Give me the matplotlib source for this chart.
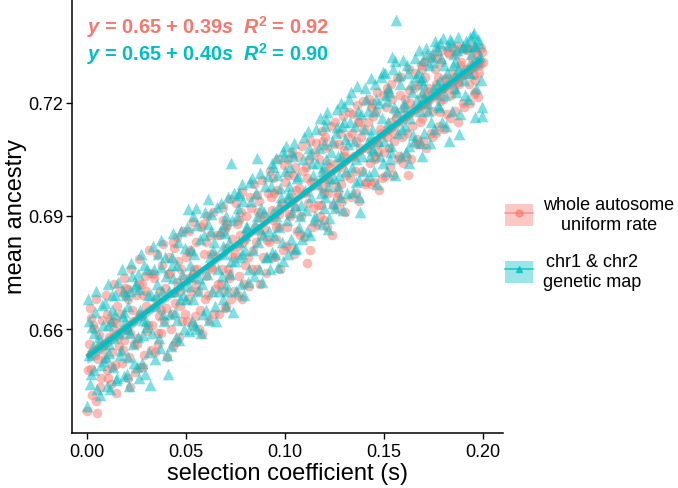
import numpy as np
import matplotlib
matplotlib.use("Agg")
import matplotlib.pyplot as plt
from matplotlib.patches import Patch
from matplotlib.lines import Line2D

plt.rcParams['font.family'] = ['Liberation Sans', 'DejaVu Sans']
plt.rcParams['mathtext.fontset'] = 'custom'
plt.rcParams['mathtext.rm'] = 'Liberation Sans'
plt.rcParams['mathtext.it'] = 'Liberation Sans:italic'
plt.rcParams['mathtext.bf'] = 'Liberation Sans:bold'
plt.rcParams['mathtext.bfit'] = 'Liberation Sans:bold:italic'

series_labels = ["whole autosome\nuniform rate", "chr1 & chr2\ngenetic map"]
x_ticks = [0.00, 0.05, 0.10, 0.15, 0.20]
y_ticks = [0.66, 0.69, 0.72]
fit_intercept = [0.6528, 0.6525]
fit_slope = [0.392, 0.397]

# whole autosome, uniform rate (circles)
s_auto = [
    0.000, 0.001, 0.002, 0.003, 0.004, 0.005, 0.006, 0.007, 0.008, 0.002,
    0.009, 0.010, 0.011, 0.012, 0.013, 0.014, 0.015, 0.016, 0.010, 0.013,
    0.017, 0.018, 0.019, 0.020, 0.021, 0.022, 0.023, 0.024, 0.019, 0.022,
    0.025, 0.026, 0.027, 0.028, 0.029, 0.030, 0.031, 0.032, 0.027, 0.030,
    0.033, 0.034, 0.035, 0.036, 0.037, 0.038, 0.039, 0.040, 0.041, 0.036,
    0.042, 0.043, 0.044, 0.045, 0.046, 0.047, 0.048, 0.049, 0.044, 0.047,
    0.050, 0.051, 0.052, 0.053, 0.054, 0.055, 0.056, 0.057, 0.052, 0.055,
    0.058, 0.059, 0.060, 0.061, 0.062, 0.063, 0.064, 0.065, 0.066, 0.060,
    0.067, 0.068, 0.069, 0.070, 0.071, 0.072, 0.073, 0.074, 0.069, 0.072,
    0.075, 0.076, 0.077, 0.078, 0.079, 0.080, 0.081, 0.082, 0.077, 0.080,
    0.083, 0.084, 0.085, 0.086, 0.087, 0.088, 0.089, 0.090, 0.091, 0.086,
    0.092, 0.093, 0.094, 0.095, 0.096, 0.097, 0.098, 0.099, 0.094, 0.097,
    0.100, 0.101, 0.102, 0.103, 0.104, 0.105, 0.106, 0.107, 0.102, 0.105,
    0.108, 0.109, 0.110, 0.111, 0.112, 0.113, 0.114, 0.115, 0.116, 0.111,
    0.117, 0.118, 0.119, 0.120, 0.121, 0.122, 0.123, 0.124, 0.119, 0.122,
    0.125, 0.126, 0.127, 0.128, 0.129, 0.130, 0.131, 0.132, 0.127, 0.130,
    0.133, 0.134, 0.135, 0.136, 0.137, 0.138, 0.139, 0.140, 0.141, 0.136,
    0.142, 0.143, 0.144, 0.145, 0.146, 0.147, 0.148, 0.149, 0.144, 0.147,
    0.150, 0.151, 0.152, 0.153, 0.154, 0.155, 0.156, 0.157, 0.152, 0.155,
    0.158, 0.159, 0.160, 0.161, 0.162, 0.163, 0.164, 0.165, 0.166, 0.160,
    0.167, 0.168, 0.169, 0.170, 0.171, 0.172, 0.173, 0.174, 0.169, 0.172,
    0.175, 0.176, 0.177, 0.178, 0.179, 0.180, 0.181, 0.182, 0.177, 0.180,
    0.183, 0.184, 0.185, 0.186, 0.187, 0.188, 0.189, 0.190, 0.191, 0.186,
    0.192, 0.193, 0.194, 0.195, 0.196, 0.197, 0.198, 0.199, 0.200, 0.196,
    0.0005, 0.0015, 0.0025, 0.0035, 0.0045, 0.0055, 0.0065, 0.0075, 0.0085, 0.0045,
    0.0095, 0.0105, 0.0115, 0.0125, 0.0135, 0.0145, 0.0155, 0.0165, 0.0125, 0.0145,
    0.0175, 0.0185, 0.0195, 0.0205, 0.0215, 0.0225, 0.0235, 0.0245, 0.0205, 0.0185,
    0.0255, 0.0265, 0.0275, 0.0285, 0.0295, 0.0305, 0.0315, 0.0325, 0.0285, 0.0265,
    0.0335, 0.0345, 0.0355, 0.0365, 0.0375, 0.0385, 0.0395, 0.0405, 0.0415, 0.0375,
    0.0425, 0.0435, 0.0445, 0.0455, 0.0465, 0.0475, 0.0485, 0.0495, 0.0455, 0.0435,
    0.0505, 0.0515, 0.0525, 0.0535, 0.0545, 0.0555, 0.0565, 0.0575, 0.0535, 0.0515,
    0.0585, 0.0595, 0.0605, 0.0615, 0.0625, 0.0635, 0.0645, 0.0655, 0.0665, 0.0625,
    0.0675, 0.0685, 0.0695, 0.0705, 0.0715, 0.0725, 0.0735, 0.0745, 0.0705, 0.0685,
    0.0755, 0.0765, 0.0775, 0.0785, 0.0795, 0.0805, 0.0815, 0.0825, 0.0785, 0.0765,
    0.0835, 0.0845, 0.0855, 0.0865, 0.0875, 0.0885, 0.0895, 0.0905, 0.0915, 0.0875,
    0.0925, 0.0935, 0.0945, 0.0955, 0.0965, 0.0975, 0.0985, 0.0995, 0.0955, 0.0935,
    0.1005, 0.1015, 0.1025, 0.1035, 0.1045, 0.1055, 0.1065, 0.1075, 0.1035, 0.1015,
    0.1085, 0.1095, 0.1105, 0.1115, 0.1125, 0.1135, 0.1145, 0.1155, 0.1165, 0.1125,
    0.1175, 0.1185, 0.1195, 0.1205, 0.1215, 0.1225, 0.1235, 0.1245, 0.1205, 0.1185,
    0.1255, 0.1265, 0.1275, 0.1285, 0.1295, 0.1305, 0.1315, 0.1325, 0.1285, 0.1265,
    0.1335, 0.1345, 0.1355, 0.1365, 0.1375, 0.1385, 0.1395, 0.1405, 0.1415, 0.1375,
    0.1425, 0.1435, 0.1445, 0.1455, 0.1465, 0.1475, 0.1485, 0.1495, 0.1455, 0.1435,
    0.1505, 0.1515, 0.1525, 0.1535, 0.1545, 0.1555, 0.1565, 0.1575, 0.1535, 0.1515,
    0.1585, 0.1595, 0.1605, 0.1615, 0.1625, 0.1635, 0.1645, 0.1655, 0.1665, 0.1625,
    0.1675, 0.1685, 0.1695, 0.1705, 0.1715, 0.1725, 0.1735, 0.1745, 0.1705, 0.1685,
    0.1755, 0.1765, 0.1775, 0.1785, 0.1795, 0.1805, 0.1815, 0.1825, 0.1785, 0.1765,
    0.1835, 0.1845, 0.1855, 0.1865, 0.1875, 0.1885, 0.1895, 0.1905, 0.1915, 0.1875,
    0.1925, 0.1935, 0.1945, 0.1955, 0.1965, 0.1975, 0.1985, 0.1995, 0.1955, 0.1935,
]
y_auto = [
    0.6382, 0.6560, 0.6495, 0.6610, 0.6530, 0.6378, 0.6585, 0.6470, 0.6545, 0.6630,
    0.6520, 0.6640, 0.6580, 0.6455, 0.6600, 0.6505, 0.6660, 0.6555, 0.6490, 0.6620,
    0.6640, 0.6545, 0.6690, 0.6600, 0.6470, 0.6446, 0.6650, 0.6560, 0.6710, 0.6590,
    0.6690, 0.6575, 0.6640, 0.6720, 0.6530, 0.6660, 0.6610, 0.6750, 0.6500, 0.6700,
    0.6610, 0.6735, 0.6680, 0.6560, 0.6700, 0.6770, 0.6620, 0.6655, 0.6745, 0.6590,
    0.6750, 0.6640, 0.6695, 0.6565, 0.6780, 0.6700, 0.6620, 0.6735, 0.6815, 0.6660,
    0.6790, 0.6680, 0.6735, 0.6610, 0.6760, 0.6830, 0.6700, 0.6650, 0.6810, 0.6720,
    0.6587, 0.6800, 0.6740, 0.6690, 0.6850, 0.6760, 0.6640, 0.6795, 0.6720, 0.6830,
    0.6850, 0.6760, 0.6700, 0.6815, 0.6880, 0.6745, 0.6680, 0.6790, 0.6860, 0.6735,
    0.6800, 0.6880, 0.6740, 0.6910, 0.6830, 0.6770, 0.6860, 0.6715, 0.6890, 0.6840,
    0.6920, 0.6810, 0.6870, 0.6760, 0.6940, 0.6850, 0.6790, 0.6900, 0.6835, 0.6955,
    0.6830, 0.6950, 0.6890, 0.6790, 0.6970, 0.6870, 0.6920, 0.6810, 0.7000, 0.6905,
    0.6990, 0.6870, 0.6940, 0.6815, 0.7010, 0.6920, 0.6860, 0.6975, 0.6905, 0.7030,
    0.6900, 0.7020, 0.6960, 0.6775, 0.7050, 0.6990, 0.6920, 0.7070, 0.6880, 0.7000,
    0.7050, 0.6930, 0.7000, 0.6890, 0.7080, 0.6960, 0.7030, 0.6850, 0.7100, 0.6990,
    0.7090, 0.6980, 0.7040, 0.7120, 0.6940, 0.7060, 0.7010, 0.7110, 0.6960, 0.7075,
    0.7000, 0.7120, 0.7060, 0.6960, 0.7150, 0.7080, 0.7020, 0.7130, 0.6990, 0.7100,
    0.7150, 0.7040, 0.7100, 0.6990, 0.7180, 0.7070, 0.7130, 0.7000, 0.7200, 0.7090,
    0.7070, 0.7190, 0.7130, 0.7030, 0.7210, 0.7100, 0.7160, 0.7050, 0.7230, 0.7120,
    0.7220, 0.7110, 0.7170, 0.7060, 0.7009, 0.7200, 0.7140, 0.7240, 0.7090, 0.7190,
    0.7250, 0.7150, 0.7210, 0.7100, 0.7270, 0.7180, 0.7230, 0.7120, 0.7290, 0.7200,
    0.7180, 0.7290, 0.7230, 0.7140, 0.7310, 0.7210, 0.7260, 0.7170, 0.7320, 0.7240,
    0.7330, 0.7220, 0.7280, 0.7180, 0.7350, 0.7250, 0.7310, 0.7200, 0.7345, 0.7270,
    0.7340, 0.7250, 0.7300, 0.7350, 0.7230, 0.7330, 0.7280, 0.7345, 0.7310, 0.7260,
    0.6490, 0.6655, 0.6425, 0.6600, 0.6680, 0.6520, 0.6445, 0.6625, 0.6560, 0.6410,
    0.6690, 0.6470, 0.6625, 0.6540, 0.6720, 0.6430, 0.6580, 0.6700, 0.6500, 0.6615,
    0.6510, 0.6735, 0.6600, 0.6680, 0.6525, 0.6760, 0.6620, 0.6485, 0.6705, 0.6570,
    0.6560, 0.6785, 0.6635, 0.6500, 0.6740, 0.6595, 0.6810, 0.6545, 0.6690, 0.6720,
    0.6745, 0.6540, 0.6800, 0.6635, 0.6590, 0.6825, 0.6710, 0.6525, 0.6790, 0.6650,
    0.6600, 0.6830, 0.6670, 0.6845, 0.6580, 0.6760, 0.6860, 0.6640, 0.6725, 0.6555,
    0.6620, 0.6860, 0.6700, 0.6885, 0.6635, 0.6760, 0.6600, 0.6870, 0.6745, 0.6805,
    0.6880, 0.6680, 0.6900, 0.6625, 0.6765, 0.6910, 0.6705, 0.6850, 0.6640, 0.6800,
    0.6720, 0.6925, 0.6655, 0.6870, 0.6760, 0.6945, 0.6840, 0.6700, 0.6660, 0.6890,
    0.6935, 0.6690, 0.6850, 0.6965, 0.6720, 0.6900, 0.6790, 0.6950, 0.6680, 0.6820,
    0.6760, 0.6985, 0.6830, 0.6910, 0.6720, 0.6995, 0.6865, 0.6750, 0.6960, 0.6895,
    0.7020, 0.6790, 0.6960, 0.6870, 0.7050, 0.6760, 0.6935, 0.7035, 0.6840, 0.6915,
    0.6820, 0.7050, 0.6900, 0.7070, 0.6800, 0.6970, 0.7060, 0.6850, 0.6950, 0.7010,
    0.7085, 0.6845, 0.7030, 0.6935, 0.7100, 0.6870, 0.6990, 0.7095, 0.6930, 0.6810,
    0.6900, 0.7125, 0.6960, 0.7110, 0.6870, 0.7040, 0.7140, 0.6930, 0.7020, 0.6975,
    0.7150, 0.6920, 0.7090, 0.6985, 0.7165, 0.6910, 0.7055, 0.7175, 0.7030, 0.6950,
    0.6950, 0.7170, 0.7020, 0.7195, 0.6940, 0.7110, 0.7205, 0.6985, 0.7080, 0.7150,
    0.7210, 0.6985, 0.7165, 0.7060, 0.7230, 0.6970, 0.7120, 0.7220, 0.7050, 0.7190,
    0.7005, 0.7240, 0.7080, 0.7250, 0.7010, 0.7180, 0.7265, 0.7060, 0.7150, 0.7110,
    0.7270, 0.7040, 0.7210, 0.7120, 0.7290, 0.7050, 0.7185, 0.7280, 0.7105, 0.7235,
    0.7090, 0.7300, 0.7160, 0.7310, 0.7080, 0.7240, 0.7320, 0.7110, 0.7225, 0.7195,
    0.7330, 0.7120, 0.7270, 0.7205, 0.7340, 0.7130, 0.7265, 0.7335, 0.7175, 0.7250,
    0.7160, 0.7345, 0.7235, 0.7330, 0.7150, 0.7300, 0.7345, 0.7190, 0.7290, 0.7255,
    0.7345, 0.7200, 0.7320, 0.7275, 0.7340, 0.7215, 0.7300, 0.7335, 0.7225, 0.7290,
]

# chr1 & chr2, genetic map (triangles)
s_map = [
    0.000, 0.001, 0.002, 0.003, 0.004, 0.005, 0.006, 0.007, 0.008, 0.001,
    0.009, 0.010, 0.011, 0.012, 0.013, 0.014, 0.015, 0.016, 0.011, 0.014,
    0.017, 0.018, 0.019, 0.020, 0.021, 0.022, 0.023, 0.024, 0.018, 0.022,
    0.025, 0.026, 0.027, 0.028, 0.029, 0.030, 0.031, 0.032, 0.026, 0.030,
    0.033, 0.034, 0.035, 0.036, 0.037, 0.038, 0.039, 0.040, 0.041, 0.035,
    0.042, 0.043, 0.044, 0.045, 0.046, 0.047, 0.048, 0.049, 0.043, 0.047,
    0.050, 0.051, 0.052, 0.053, 0.054, 0.055, 0.056, 0.057, 0.052, 0.055,
    0.058, 0.059, 0.060, 0.061, 0.062, 0.063, 0.064, 0.065, 0.066, 0.061,
    0.067, 0.068, 0.069, 0.070, 0.071, 0.072, 0.073, 0.074, 0.069, 0.073,
    0.075, 0.076, 0.077, 0.078, 0.079, 0.080, 0.081, 0.082, 0.077, 0.080,
    0.083, 0.084, 0.085, 0.086, 0.087, 0.088, 0.089, 0.090, 0.091, 0.086,
    0.092, 0.093, 0.094, 0.095, 0.096, 0.097, 0.098, 0.099, 0.094, 0.097,
    0.100, 0.101, 0.102, 0.103, 0.104, 0.105, 0.106, 0.107, 0.102, 0.105,
    0.108, 0.109, 0.110, 0.111, 0.112, 0.113, 0.114, 0.115, 0.116, 0.099,
    0.117, 0.118, 0.119, 0.120, 0.121, 0.122, 0.123, 0.124, 0.121, 0.122,
    0.125, 0.126, 0.127, 0.128, 0.129, 0.130, 0.131, 0.132, 0.127, 0.130,
    0.133, 0.134, 0.135, 0.136, 0.137, 0.138, 0.139, 0.140, 0.141, 0.136,
    0.142, 0.143, 0.144, 0.145, 0.146, 0.147, 0.148, 0.149, 0.144, 0.1495,
    0.150, 0.151, 0.152, 0.153, 0.154, 0.155, 0.156, 0.157, 0.1556, 0.152,
    0.158, 0.159, 0.160, 0.161, 0.162, 0.163, 0.164, 0.165, 0.166, 0.160,
    0.167, 0.168, 0.169, 0.170, 0.1697, 0.172, 0.173, 0.174, 0.169, 0.172,
    0.175, 0.1758, 0.177, 0.178, 0.179, 0.180, 0.181, 0.182, 0.177, 0.175,
    0.183, 0.184, 0.185, 0.186, 0.187, 0.188, 0.189, 0.190, 0.191, 0.186,
    0.192, 0.193, 0.194, 0.195, 0.196, 0.197, 0.198, 0.199, 0.1995, 0.196,
    0.0005, 0.0015, 0.0025, 0.0035, 0.0045, 0.0055, 0.0065, 0.0075, 0.0085, 0.0035,
    0.0095, 0.0105, 0.0115, 0.0125, 0.0135, 0.0145, 0.0155, 0.0165, 0.0125, 0.0105,
    0.0175, 0.0185, 0.0195, 0.0205, 0.0215, 0.0225, 0.0235, 0.0245, 0.0205, 0.0185,
    0.0255, 0.0265, 0.0275, 0.0285, 0.0295, 0.0305, 0.0315, 0.0325, 0.0285, 0.0265,
    0.0335, 0.0345, 0.0355, 0.0365, 0.0375, 0.0385, 0.0395, 0.0405, 0.0415, 0.0375,
    0.0425, 0.0435, 0.0445, 0.0455, 0.0465, 0.0475, 0.0485, 0.0495, 0.0455, 0.0435,
    0.0505, 0.0515, 0.0525, 0.0535, 0.0545, 0.0555, 0.0565, 0.0575, 0.0535, 0.0515,
    0.0585, 0.0595, 0.0605, 0.0615, 0.0625, 0.0635, 0.0645, 0.0655, 0.0665, 0.0625,
    0.0675, 0.0685, 0.0695, 0.0705, 0.0715, 0.0725, 0.0735, 0.0745, 0.0705, 0.0685,
    0.0755, 0.0765, 0.0775, 0.0785, 0.0795, 0.0805, 0.0815, 0.0825, 0.0785, 0.0765,
    0.0835, 0.0845, 0.0855, 0.0865, 0.0875, 0.0885, 0.0895, 0.0905, 0.0915, 0.0875,
    0.0925, 0.0935, 0.0945, 0.0955, 0.0965, 0.0975, 0.0985, 0.0995, 0.0955, 0.0935,
    0.1005, 0.1015, 0.1025, 0.1035, 0.1045, 0.1055, 0.1065, 0.1075, 0.1035, 0.1015,
    0.1085, 0.1095, 0.1105, 0.1115, 0.1125, 0.1135, 0.1145, 0.1155, 0.1165, 0.1125,
    0.1175, 0.1185, 0.1195, 0.1205, 0.1215, 0.1225, 0.1235, 0.1245, 0.1205, 0.1185,
    0.1255, 0.1265, 0.1275, 0.1285, 0.1295, 0.1305, 0.1315, 0.1325, 0.1285, 0.1265,
    0.1335, 0.1345, 0.1355, 0.1365, 0.1375, 0.1385, 0.1395, 0.1405, 0.1415, 0.1375,
    0.1425, 0.1435, 0.1445, 0.1455, 0.1465, 0.1475, 0.1485, 0.1495, 0.1455, 0.1435,
    0.1505, 0.1515, 0.1525, 0.1535, 0.1545, 0.1555, 0.1565, 0.1575, 0.1535, 0.1515,
    0.1585, 0.1595, 0.1605, 0.1615, 0.1625, 0.1635, 0.1645, 0.1655, 0.1665, 0.1625,
    0.1675, 0.1685, 0.1695, 0.1705, 0.1715, 0.1725, 0.1735, 0.1745, 0.1705, 0.1685,
    0.1755, 0.1765, 0.1775, 0.1785, 0.1795, 0.1805, 0.1815, 0.1825, 0.1785, 0.1765,
    0.1835, 0.1845, 0.1855, 0.1865, 0.1875, 0.1885, 0.1895, 0.1905, 0.1915, 0.1875,
    0.1925, 0.1935, 0.1945, 0.1955, 0.1965, 0.1975, 0.1985, 0.1995, 0.1955, 0.1935,
]
y_map = [
    0.6396, 0.6620, 0.6480, 0.6555, 0.6645, 0.6440, 0.6580, 0.6505, 0.6610, 0.6530,
    0.6670, 0.6450, 0.6560, 0.6620, 0.6500, 0.6690, 0.6470, 0.6590, 0.6535, 0.6640,
    0.6545, 0.6700, 0.6620, 0.6480, 0.6660, 0.6590, 0.6740, 0.6510, 0.6635, 0.6700,
    0.6720, 0.6580, 0.6650, 0.6510, 0.6770, 0.6620, 0.6690, 0.6451, 0.6745, 0.6605,
    0.6590, 0.6760, 0.6660, 0.6800, 0.6550, 0.6700, 0.6620, 0.6740, 0.6480, 0.6690,
    0.6640, 0.6790, 0.6700, 0.6580, 0.6830, 0.6680, 0.6745, 0.6600, 0.6770, 0.6720,
    0.6680, 0.6919, 0.6740, 0.6620, 0.6800, 0.6920, 0.6700, 0.6840, 0.6770, 0.6600,
    0.6720, 0.6850, 0.6650, 0.6945, 0.6790, 0.6700, 0.6830, 0.6621, 0.6760, 0.6880,
    0.6860, 0.6740, 0.6800, 0.6900, 0.6700, 0.6830, 0.7040, 0.6645, 0.6880, 0.6780,
    0.6780, 0.6900, 0.6830, 0.6720, 0.6940, 0.6810, 0.6870, 0.6760, 0.6960, 0.6850,
    0.6940, 0.6810, 0.6880, 0.7054, 0.6760, 0.6920, 0.6850, 0.6980, 0.6790, 0.6900,
    0.6860, 0.6980, 0.6910, 0.6800, 0.7010, 0.6870, 0.6950, 0.6780, 0.7030, 0.6930,
    0.7020, 0.6890, 0.6960, 0.6840, 0.7060, 0.6930, 0.7000, 0.6870, 0.6980, 0.6812,
    0.6930, 0.7050, 0.6970, 0.6860, 0.7080, 0.6950, 0.7010, 0.6900, 0.7040, 0.7073,
    0.7080, 0.6960, 0.7030, 0.6920, 0.7158, 0.6866, 0.7000, 0.7100, 0.7050, 0.6980,
    0.7000, 0.7120, 0.7060, 0.6950, 0.7140, 0.7192, 0.7020, 0.7090, 0.6980, 0.7150,
    0.7150, 0.7030, 0.7100, 0.6990, 0.7180, 0.6911, 0.7060, 0.7130, 0.7210, 0.7050,
    0.7180, 0.7060, 0.7130, 0.7020, 0.7210, 0.7100, 0.7060, 0.7160, 0.7080, 0.7282,
    0.7100, 0.7220, 0.7150, 0.7050, 0.7322, 0.7190, 0.7420, 0.7120, 0.7312, 0.7240,
    0.7250, 0.7130, 0.7200, 0.7070, 0.7280, 0.7160, 0.7230, 0.7100, 0.7270, 0.7190,
    0.7280, 0.7180, 0.7060, 0.7250, 0.7314, 0.7200, 0.7300, 0.7150, 0.7230, 0.7330,
    0.7309, 0.7365, 0.7250, 0.7190, 0.7320, 0.7373, 0.7220, 0.7280, 0.7340, 0.7240,
    0.7100, 0.7362, 0.7300, 0.7240, 0.7340, 0.7118, 0.7280, 0.7350, 0.7220, 0.7310,
    0.7351, 0.7280, 0.7330, 0.7380, 0.7163, 0.7310, 0.7359, 0.7260, 0.7165, 0.7350,
    0.6680, 0.6455, 0.6605, 0.6490, 0.6700, 0.6560, 0.6425, 0.6665, 0.6515, 0.6590,
    0.6525, 0.6720, 0.6440, 0.6690, 0.6575, 0.6465, 0.6725, 0.6530, 0.6650, 0.6610,
    0.6760, 0.6475, 0.6690, 0.6600, 0.6450, 0.6775, 0.6560, 0.6715, 0.6525, 0.6645,
    0.6500, 0.6705, 0.6800, 0.6585, 0.6480, 0.6760, 0.6540, 0.6690, 0.6625, 0.6470,
    0.6820, 0.6520, 0.6720, 0.6575, 0.6835, 0.6640, 0.6790, 0.6530, 0.6700, 0.6765,
    0.6555, 0.6855, 0.6645, 0.6770, 0.6570, 0.6860, 0.6690, 0.6815, 0.6625, 0.6735,
    0.6870, 0.6595, 0.6810, 0.6680, 0.6610, 0.6875, 0.6735, 0.6590, 0.6900, 0.6715,
    0.6640, 0.6910, 0.6745, 0.6625, 0.6905, 0.6810, 0.6660, 0.6925, 0.6700, 0.6860,
    0.6935, 0.6680, 0.6855, 0.6660, 0.6950, 0.6745, 0.6890, 0.6960, 0.6720, 0.6820,
    0.6700, 0.6955, 0.6790, 0.6985, 0.6690, 0.6870, 0.6725, 0.6990, 0.6800, 0.6920,
    0.7000, 0.6740, 0.6960, 0.6830, 0.7015, 0.6725, 0.6910, 0.6790, 0.7005, 0.6865,
    0.6760, 0.7040, 0.6850, 0.7055, 0.6765, 0.6975, 0.6830, 0.7060, 0.6900, 0.6805,
    0.7085, 0.6800, 0.7030, 0.6910, 0.7095, 0.6815, 0.7005, 0.6900, 0.7070, 0.6950,
    0.6840, 0.7110, 0.6915, 0.7125, 0.6850, 0.7040, 0.6890, 0.7130, 0.6985, 0.7065,
    0.7160, 0.6880, 0.7090, 0.6950, 0.7175, 0.6895, 0.7070, 0.6935, 0.7140, 0.7020,
    0.6920, 0.7185, 0.7010, 0.7200, 0.6915, 0.7105, 0.6960, 0.7210, 0.7060, 0.7135,
    0.7230, 0.6965, 0.7140, 0.7245, 0.6950, 0.7170, 0.7020, 0.7240, 0.7095, 0.6995,
    0.7010, 0.7265, 0.7075, 0.7250, 0.6985, 0.7200, 0.7270, 0.7040, 0.7180, 0.7115,
    0.7280, 0.7020, 0.7230, 0.7085, 0.7290, 0.7010, 0.7175, 0.7275, 0.7070, 0.7205,
    0.7060, 0.7315, 0.7140, 0.7300, 0.7040, 0.7250, 0.7115, 0.7320, 0.7210, 0.7085,
    0.7340, 0.7095, 0.7270, 0.7120, 0.7345, 0.7180, 0.7095, 0.7325, 0.7215, 0.7260,
    0.7130, 0.7350, 0.7195, 0.7360, 0.7150, 0.7300, 0.7140, 0.7355, 0.7260, 0.7225,
    0.7370, 0.7180, 0.7330, 0.7230, 0.7375, 0.7170, 0.7345, 0.7260, 0.7365, 0.7290,
    0.7210, 0.7375, 0.7300, 0.7385, 0.7240, 0.7370, 0.7325, 0.7190, 0.7350, 0.7280,
]

red = "#F8766D"
cyan = "#00BFC4"

fig = plt.figure(figsize=(6.78, 4.89), dpi=100)
ax = fig.add_axes([0.106, 0.1125, 0.636, 0.8875])

ax.scatter(s_auto, y_auto, s=48, marker='o', color=red, alpha=0.5, linewidths=0, zorder=2)
ax.scatter(s_map, y_map, s=70, marker='^', color=cyan, alpha=0.5, linewidths=0, zorder=3)

series = [(s_auto, y_auto, red, 4), (s_map, y_map, cyan, 5)]
for i, (sv, yv, col, z) in enumerate(series):
    sv = np.asarray(sv); yv = np.asarray(yv)
    a, b = fit_intercept[i], fit_slope[i]
    xs = np.linspace(sv.min(), sv.max(), 60)
    fit = a + b * xs
    resid = yv - (a + b * sv)
    n = len(sv)
    se_r = np.sqrt(np.sum(resid**2) / (n - 2))
    se = se_r * np.sqrt(1/n + (xs - sv.mean())**2 / np.sum((sv - sv.mean())**2))
    ax.fill_between(xs, fit - 1.96*se, fit + 1.96*se, color=col, alpha=0.4, lw=0, zorder=z)
    ax.plot(xs, fit, color=col, lw=3.2, zorder=z, solid_capstyle='butt')

ax.set_xlim(-0.0076, 0.2102)
ax.set_ylim(0.6324, 0.7476)
ax.set_xticks(x_ticks)
ax.set_xticklabels([f"{v:.2f}" for v in x_ticks])
ax.set_yticks(y_ticks)
ax.set_yticklabels([f"{v:.2f}" for v in y_ticks])
for sp in ['top', 'right']:
    ax.spines[sp].set_visible(False)
for sp in ['left', 'bottom']:
    ax.spines[sp].set_linewidth(1.1)
ax.tick_params(axis='both', direction='out', length=4, width=1.0, labelsize=13,
               colors='black', pad=2)
ax.tick_params(axis='x', pad=3)
ax.set_xlabel("selection coefficient (s)", fontsize=17, labelpad=2)
ax.set_ylabel("mean ancestry", fontsize=17, labelpad=1)

ax.text(0.00, 0.7404, r"$\mathbfit{y}$ = 0.65 + 0.39$\mathbfit{s}$  $\mathbfit{R}^\mathbf{2}$ = 0.92",
        color=red, fontsize=14.3, fontweight='bold', va='center', ha='left')
ax.text(0.00, 0.7333, r"$\mathbfit{y}$ = 0.65 + 0.40$\mathbfit{s}$  $\mathbfit{R}^\mathbf{2}$ = 0.90",
        color=cyan, fontsize=14.3, fontweight='bold', va='center', ha='left')

h1 = (Patch(facecolor=red, alpha=0.4, edgecolor='none'),
      Line2D([], [], color=red, lw=1.2, marker='o', markersize=5, alpha=0.6))
h2 = (Patch(facecolor=cyan, alpha=0.4, edgecolor='none'),
      Line2D([], [], color=cyan, lw=1.2, marker='^', markersize=5, alpha=0.8))
leg = fig.legend([h1, h2], series_labels, loc='center left', bbox_to_anchor=(0.745, 0.501),
                 frameon=False, fontsize=13, handlelength=1.55, handleheight=1.5,
                 labelspacing=1.1, handletextpad=0.55, borderpad=0, borderaxespad=0)
for t in leg.get_texts():
    t.set_multialignment('center')

fig.savefig("out.png", dpi=100)
